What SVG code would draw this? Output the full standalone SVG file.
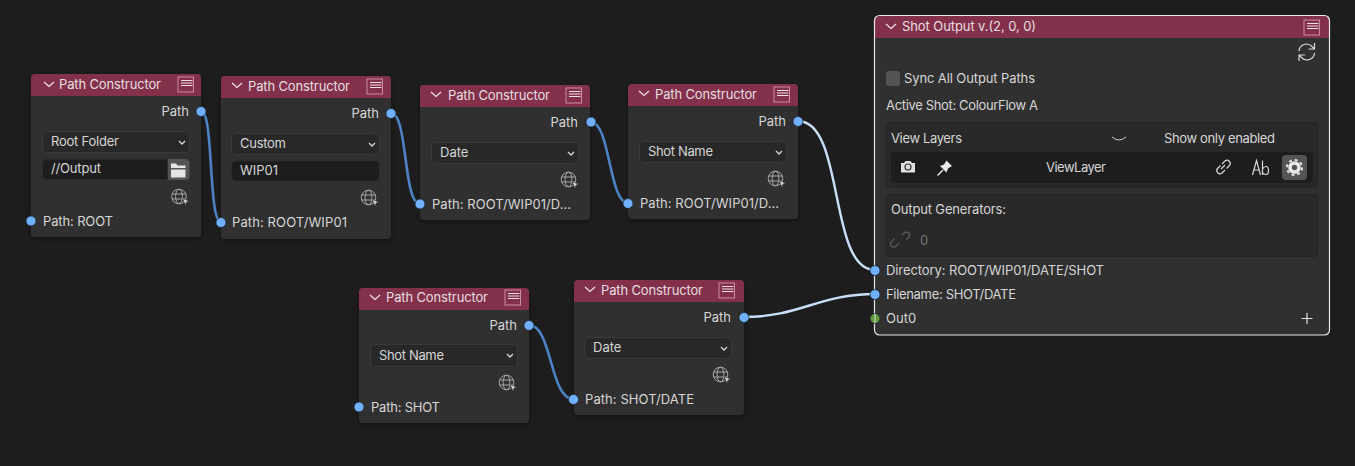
<svg xmlns="http://www.w3.org/2000/svg" width="1355" height="466" viewBox="0 0 1355 466">
<style>
text{font-family:Inter,"Noto Sans","Liberation Sans",sans-serif;font-size:13px;fill:#d6d6d6}
.t{fill:#e6dfe1}
.body{fill:#303030}
.hd{fill:#83314a}
.sel{fill:#282828;stroke:#3a3a3a}
.fld{fill:#1d1d1d;stroke:#2b2b2b}
.box{fill:#292929;stroke:#232323}
.sock{fill:#6fb0ff;stroke:#1f2731;stroke-width:.8}
.ln{fill:none;stroke:#4d83c4;stroke-width:2.6;stroke-linecap:round}
.ln2{fill:none;stroke:#c9dff7;stroke-width:2.4;stroke-linecap:round}
.ic{fill:none;stroke:#d8d8d8;stroke-width:1.2}
.sh{fill:#000;opacity:.35;filter:url(#b)}
</style>
<defs>
<filter id="b" x="-10%" y="-10%" width="120%" height="120%"><feGaussianBlur stdDeviation="2"/></filter>
<g id="chev"><path d="M0 0l5 4.500 5-4.500" fill="none" stroke="#efe3e6" stroke-width="1.200"/></g>
<g id="menu"><rect x="0" y="0" width="15.500" height="15" fill="none" stroke="#c98ea0" stroke-width="1"/><path d="M3 3.500h11.500M3 6h11.500M3 8.500h11.500" stroke="#f0dde3" stroke-width="1"/></g>
<g id="dd"><path d="M0 0l3 3 3-3" fill="none" stroke="#d8d8d8" stroke-width="1.300"/></g>
<g id="globe"><circle cx="7.500" cy="7.500" r="7.300" fill="none" stroke="#a8a8a8" stroke-width="1"/><ellipse cx="7.500" cy="7.500" rx="3.400" ry="7.300" fill="none" stroke="#a8a8a8"/><path d="M.5 5h14M.5 10h14" stroke="#a8a8a8"/><path d="M11 9.500l6.500 2.500-2.500 1.200-1 3z" fill="#d8d8d8" stroke="#303030" stroke-width=".6"/></g>
</defs>
<rect width="1355" height="466" fill="#1d1d1d"/>

<g id="connectors">
<path class="ln" d="M201 111C214 111 208 222 221 222"/>
<path class="ln" d="M391 113C408 113 403 204 420 204"/>
<path class="ln" d="M591 122C610 122 609 203 628 203"/>
<path class="ln" d="M529 325C552 325 550 399 573 399"/>
<path class="ln2" d="M798 121C845 121 828 270 875 270"/>
<path class="ln2" d="M744 317C800 317 819 294 875 294"/>
</g>

<g id="node-1">
<rect class="sh" x="31" y="76" width="170" height="163" rx="5"/>
<rect class="body" x="31" y="74" width="170" height="163" rx="4"/>
<path class="hd" d="M31 96V78a4 4 0 0 1 4-4h162a4 4 0 0 1 4 4v18z"/>
<use href="#chev" x="44" y="82"/><text class="t" x="59" y="89" textLength="102">Path Constructor</text><use href="#menu" x="178" y="77"/>
<text x="189" y="116" text-anchor="end">Path</text>
<rect class="sel" x="42.500" y="131.500" width="147" height="21" rx="4"/><text x="51" y="146" textLength="68">Root Folder</text><use href="#dd" x="179" y="141"/>
<path class="fld" d="M46.500 159.500H167.500V179.500H46.500a4 4 0 0 1-4-4v-12a4 4 0 0 1 4-4z"/><text x="51" y="173" textLength="50">//Output</text>
<path d="M168 159h17.500a4 4 0 0 1 4 4v13a4 4 0 0 1-4 4H168z" fill="#545454"/>
<path d="M171 163.500h5l1.500 2h8v2.500h-14.500z M171 169.500h14.500v8h-14.500z" fill="#e4e4e4"/>
<use href="#globe" x="171.500" y="189"/>
<text x="43" y="226" textLength="70">Path: ROOT</text>
<circle class="sock" cx="201" cy="111.500" r="5"/><circle class="sock" cx="31" cy="221" r="5"/>
</g>

<g id="node-2">
<rect class="sh" x="221" y="78" width="170" height="163" rx="5"/>
<rect class="body" x="221" y="76" width="170" height="163" rx="4"/>
<path class="hd" d="M221 98V80a4 4 0 0 1 4-4h162a4 4 0 0 1 4 4v18z"/>
<use href="#chev" x="232" y="83"/><text class="t" x="248" y="91" textLength="102">Path Constructor</text><use href="#menu" x="367" y="79"/>
<text x="379" y="118" text-anchor="end">Path</text>
<rect class="sel" x="231.500" y="133.500" width="148" height="21" rx="4"/><text x="240" y="148" textLength="46">Custom</text><use href="#dd" x="369" y="143"/>
<rect class="fld" x="231.500" y="161" width="148" height="20" rx="4"/><text x="240" y="175">WIP01</text>
<use href="#globe" x="361" y="190"/>
<text x="232" y="227" textLength="115">Path: ROOT/WIP01</text>
<circle class="sock" cx="391" cy="113.500" r="5"/><circle class="sock" cx="221" cy="222.500" r="5"/>
</g>

<g id="node-3">
<rect class="sh" x="420" y="87" width="170" height="135" rx="5"/>
<rect class="body" x="420" y="85" width="170" height="135" rx="4"/>
<path class="hd" d="M420 107V89a4 4 0 0 1 4-4h162a4 4 0 0 1 4 4v18z"/>
<use href="#chev" x="431" y="92"/><text class="t" x="448" y="100" textLength="102">Path Constructor</text><use href="#menu" x="566" y="88"/>
<text x="578" y="127" text-anchor="end">Path</text>
<rect class="sel" x="431.500" y="142.500" width="147" height="21" rx="4"/><text x="440" y="157">Date</text><use href="#dd" x="568" y="152"/>
<use href="#globe" x="561" y="172"/>
<text x="432" y="209" textLength="139">Path: ROOT/WIP01/D...</text>
<circle class="sock" cx="591" cy="122" r="5"/><circle class="sock" cx="420" cy="204" r="5"/>
</g>

<g id="node-4">
<rect class="sh" x="628" y="86" width="170" height="135" rx="5"/>
<rect class="body" x="628" y="84" width="170" height="135" rx="4"/>
<path class="hd" d="M628 106V88a4 4 0 0 1 4-4h162a4 4 0 0 1 4 4v18z"/>
<use href="#chev" x="639" y="91"/><text class="t" x="655" y="99" textLength="102">Path Constructor</text><use href="#menu" x="774" y="87"/>
<text x="786" y="126" text-anchor="end">Path</text>
<rect class="sel" x="639.500" y="141.500" width="147" height="21" rx="4"/><text x="648" y="156" textLength="65">Shot Name</text><use href="#dd" x="776" y="151"/>
<use href="#globe" x="768" y="171"/>
<text x="640" y="208" textLength="139">Path: ROOT/WIP01/D...</text>
<circle class="sock" cx="798" cy="121.500" r="5"/><circle class="sock" cx="628" cy="203.500" r="5"/>
</g>

<g id="node-5">
<rect class="sh" x="359" y="290" width="170" height="135" rx="5"/>
<rect class="body" x="359" y="288" width="170" height="135" rx="4"/>
<path class="hd" d="M359 310V292a4 4 0 0 1 4-4h162a4 4 0 0 1 4 4v18z"/>
<use href="#chev" x="370" y="295"/><text class="t" x="386" y="302" textLength="102">Path Constructor</text><use href="#menu" x="505" y="290"/>
<text x="517" y="330" text-anchor="end">Path</text>
<rect class="sel" x="370.500" y="344.500" width="147" height="22" rx="4"/><text x="379" y="360" textLength="65">Shot Name</text><use href="#dd" x="507" y="354"/>
<use href="#globe" x="499" y="375"/>
<text x="371" y="412" textLength="69">Path: SHOT</text>
<circle class="sock" cx="359" cy="407" r="5"/><circle class="sock" cx="529" cy="325.500" r="5"/>
</g>

<g id="node-6">
<rect class="sh" x="574" y="282" width="170" height="135" rx="5"/>
<rect class="body" x="574" y="280" width="170" height="135" rx="4"/>
<path class="hd" d="M574 302V284a4 4 0 0 1 4-4h162a4 4 0 0 1 4 4v18z"/>
<use href="#chev" x="585" y="287"/><text class="t" x="601" y="295" textLength="102">Path Constructor</text><use href="#menu" x="719" y="283"/>
<text x="731" y="322" text-anchor="end">Path</text>
<rect class="sel" x="584.500" y="337.500" width="147" height="21" rx="4"/><text x="593" y="352">Date</text><use href="#dd" x="721" y="347"/>
<use href="#globe" x="713" y="367"/>
<text x="585" y="404" textLength="109">Path: SHOT/DATE</text>
<circle class="sock" cx="573.500" cy="399.500" r="5"/><circle class="sock" cx="744" cy="317.500" r="5"/>
</g>

<g id="node-7">
<rect class="body" x="875" y="16" width="455" height="319" rx="5"/>
<path class="hd" d="M875 38V21a5 5 0 0 1 5-5h445a5 5 0 0 1 5 5v17z"/>
<rect x="874.500" y="15.500" width="455" height="319.500" rx="5" fill="none" stroke="#e8e8e8" stroke-width="1.200"/>
<use href="#chev" x="886" y="24"/><text class="t" x="902" y="31" textLength="134">Shot Output v.(2, 0, 0)</text><use href="#menu" x="1304" y="20"/>
<path class="ic" d="M1299 51a7.500 7.500 0 0 1 13-4.500l2.500 2.500M1314.500 43v6h-6M1314.500 53a7.500 7.500 0 0 1-13 4.500l-2.500-2.500M1299 61v-6h6"/>
<rect x="886" y="71" width="14" height="15" rx="3" fill="#545454"/><text x="904" y="83" textLength="131">Sync All Output Paths</text>
<text x="886" y="110" textLength="152">Active Shot: ColourFlow A</text>
<rect class="box" x="886.500" y="122.500" width="431" height="65" rx="4"/>
<text x="891" y="143" textLength="71">View Layers</text>
<path d="M1112 137q7 6 14 0" fill="none" stroke="#cfcfcf" stroke-width="1"/>
<text x="1164" y="143" textLength="111">Show only enabled</text>
<rect class="fld" x="890.500" y="151.500" width="423" height="32" rx="4"/>
<path d="M901 163h3l1.500-2h5l1.500 2h3v9.500h-14z" fill="#e0e0e0"/><circle cx="908" cy="167" r="3" fill="none" stroke="#303030" stroke-width="1.200"/>
<path d="M937.500 175.500l5.500-5.500" stroke="#e8e8e8" stroke-width="1.500"/><path d="M940 166l4-1.500 2.500-4 5.500 5.500-4 2.500-1.500 4z" fill="#e8e8e8"/>
<text x="1046" y="172" textLength="60">ViewLayer</text>
<path class="ic" d="M1222 164l3-3a3.200 3.200 0 0 1 4.500 4.500l-3 3M1225 170l-3 3a3.200 3.200 0 0 1-4.500-4.500l3-3M1221 169l4-4"/>
<path class="ic" d="M1252.500 175l4-14.500 4 14.500M1254 170h5M1262.500 160.500v14.500M1262.500 169q1.500-2.500 3.500-2.500q2.500 0 2.500 4t-2.500 4q-2 0-3.500-2"/>
<rect x="1282" y="155" width="25" height="25" rx="4" fill="#545454"/>
<circle cx="1294.500" cy="167.500" r="4.500" fill="none" stroke="#e8e8e8" stroke-width="3.600"/><circle cx="1294.500" cy="167.500" r="7.500" fill="none" stroke="#e8e8e8" stroke-width="2" stroke-dasharray="2.900 3"/>
<rect class="box" x="886.500" y="194.500" width="431" height="62" rx="4"/>
<text x="891" y="214" textLength="115">Output Generators:</text>
<path d="M902 235l2-2a3 3 0 0 1 4.500 4.500l-2 2M899 243l-3 3a3 3 0 0 1-4.500-4.500l3-3" fill="none" stroke="#5c5c5c" stroke-width="1.200"/>
<text x="920" y="245" style="fill:#727272">0</text>
<text x="886" y="275" textLength="218">Directory: ROOT/WIP01/DATE/SHOT</text>
<text x="886" y="299" textLength="130">Filename: SHOT/DATE</text>
<text x="886" y="323">Out0</text>
<path d="M1307 313v11M1301.500 318.500h11" stroke="#e0e0e0" stroke-width="1.200"/>
<circle class="sock" cx="875" cy="270.500" r="5"/><circle class="sock" cx="875" cy="294.500" r="5"/>
<circle cx="875" cy="318.500" r="5" fill="#5f9a3a" stroke="#1f2731" stroke-width=".8"/><path d="M875 314v9" stroke="#e0e0e0"/>
</g>
</svg>
